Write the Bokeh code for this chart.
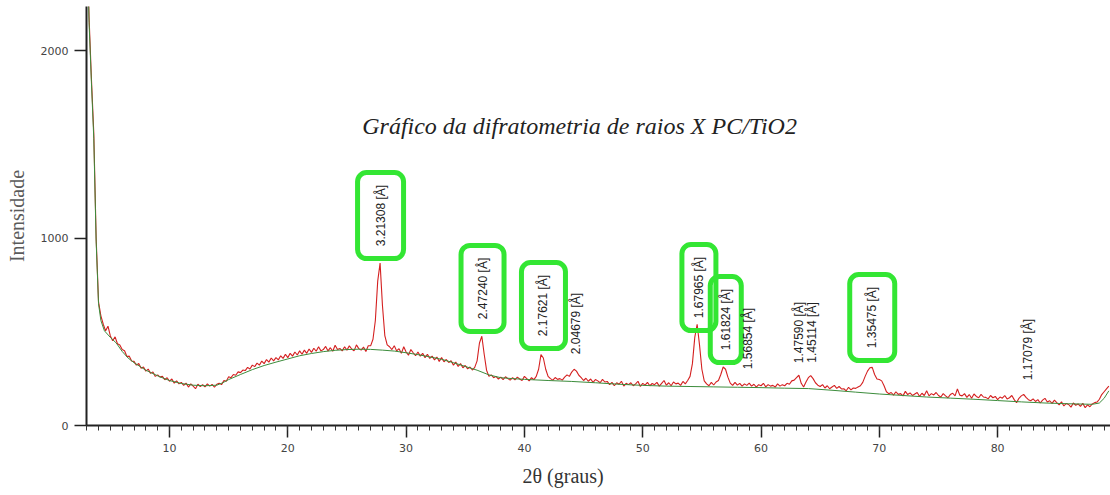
import numpy as np
from bokeh.plotting import figure
from bokeh.models import Range1d, SingleIntervalTicker, Label, LabelSet, ColumnDataSource, Title
from bokeh.embed import file_html
from bokeh.resources import INLINE
from bokeh.core.properties import value

# ---------------- data ----------------
two_theta_start = 3.0
two_theta_step = 0.2
intensity = [
    2700, 2180, 1850, 1560, 1000, 660, 585, 540, 505, 530,
    478, 452, 473, 436, 430, 405, 399, 368, 370, 344,
    342, 322, 331, 305, 312, 290, 301, 278, 286, 262,
    270, 258, 262, 244, 255, 236, 248, 226, 238, 222,
    230, 214, 226, 205, 222, 210, 196, 220, 208, 218,
    206, 222, 210, 219, 204, 220, 226, 218, 240, 236,
    260, 255, 272, 268, 286, 282, 296, 293, 310, 301,
    322, 314, 333, 322, 344, 330, 352, 338, 360, 345,
    362, 350, 372, 358, 380, 362, 385, 370, 392, 376,
    398, 380, 402, 385, 408, 390, 412, 396, 420, 398,
    405, 422, 398, 415, 396, 428, 405, 411, 398, 420,
    402, 425, 408, 398, 430, 410, 402, 418, 395, 425,
    425, 460, 560, 770, 866, 640, 480, 430, 420, 405,
    425, 398, 410, 385, 420, 392, 375, 405, 388, 372,
    392, 370, 385, 362, 380, 358, 370, 350, 365, 342,
    362, 340, 352, 336, 345, 322, 338, 315, 330, 308,
    320, 302, 312, 296, 310, 345, 440, 476, 380, 295,
    262, 270, 255, 262, 248, 258, 245, 260, 250, 242,
    255, 244, 258, 248, 240, 262, 250, 238, 255, 245,
    262, 300, 378, 360, 300, 262, 250, 242, 256, 246,
    250, 242, 258, 270, 262, 285, 300, 290, 268, 255,
    240, 252, 236, 248, 230, 245, 238, 228, 246, 232,
    235, 218, 230, 212, 228, 220, 236, 210, 225, 218,
    228, 212, 222, 236, 208, 225, 215, 230, 212, 224,
    218, 230, 210, 225, 240, 215, 228, 212, 232, 222,
    226, 214, 235, 222, 240, 262, 330, 470, 540, 430,
    300, 238, 222, 212, 230, 216, 232, 240, 272, 312,
    300, 258, 226, 214, 230, 215, 225, 210, 222, 214,
    226, 210, 220, 205, 218, 212, 225, 206, 218, 210,
    214, 205, 222, 210, 218, 212, 225, 220, 238, 242,
    255, 268, 225, 205, 232, 255, 266, 250, 228, 215,
    208, 218, 200, 212, 196, 205, 214, 198, 208, 195,
    196, 185, 204, 190, 200, 198, 205, 212, 230, 262,
    290, 308, 310, 272, 248, 245, 238, 212, 180, 170,
    176, 162, 180, 166, 170, 158, 182, 165, 174, 160,
    168, 176, 155, 172, 160, 185, 158, 170, 163, 176,
    160, 152, 170, 158, 148, 165, 172, 158, 195, 162,
    158, 170, 150, 165, 145, 168, 155, 148, 166, 152,
    150, 142, 160, 148, 155, 138, 152, 146, 160, 142,
    148, 160, 138, 122, 145, 158, 166, 150, 138, 132,
    142, 128, 138, 120, 135, 145, 125, 132, 118, 135,
    122, 110, 126, 104, 118, 112, 98, 120, 108, 115,
    102, 118, 95, 110, 100, 115, 122, 125, 140, 165,
    180, 195, 210,
]
two_theta = [round(two_theta_start + i * two_theta_step, 2) for i in range(len(intensity))]

bg_two_theta = [3.0, 3.2, 3.4, 3.6, 3.8, 4.0, 4.2, 4.5, 5.0, 5.5, 6.0, 6.5, 7.0, 7.5,
                8.0, 8.5, 9.0, 9.5, 10.0, 11.0, 12.0, 13.0, 14.0, 14.5, 15.0, 16.0,
                17.0, 18.0, 19.0, 20.0, 21.0, 22.0, 23.0, 24.0, 25.0, 26.0, 27.0,
                28.0, 29.0, 30.0, 31.0, 32.0, 33.0, 34.0, 35.0, 36.0, 37.0, 38.0,
                39.0, 40.0, 42.0, 44.0, 46.0, 48.0, 50.0, 52.0, 54.0, 56.0, 58.0,
                60.0, 62.0, 64.0, 66.0, 68.0, 70.0, 72.0, 74.0, 76.0, 78.0, 80.0,
                82.0, 84.0, 86.0, 88.0, 88.6, 89.0, 89.4]
bg_intensity = [2700, 2150, 1830, 1530, 980, 650, 560, 505, 470, 440, 395, 360, 335, 315,
                295, 280, 265, 252, 240, 224, 215, 212, 215, 228, 245, 272,
                298, 320, 338, 355, 372, 384, 394, 401, 405, 407, 406,
                402, 397, 388, 378, 366, 353, 335, 315, 295, 270, 255,
                250, 246, 240, 235, 228, 220, 214, 210, 208, 206, 204,
                202, 199, 197, 188, 178, 168, 160, 152, 146, 140, 133,
                126, 120, 116, 113, 120, 145, 185]

peak_labels = ["3.21308 [Å]", "2.47240 [Å]", "2.17621 [Å]", "2.04679 [Å]",
               "1.67965 [Å]", "1.61824 [Å]", "1.56854 [Å]", "1.47590 [Å]",
               "1.45114 [Å]", "1.35475 [Å]", "1.17079 [Å]"]
peak_two_theta = [27.84, 36.46, 41.61, 44.40, 54.75, 57.02, 58.94, 63.17, 64.35, 69.40, 82.53]
peak_boxed = [True, True, True, False, True, True, False, False, False, True, False]

# placement (annotation positions / sizes)
label_y = [1120, 731, 640, 544, 736, 565, 464, 496, 496, 576, 405]
box_w_px = [46, 43, 44, 0, 34, 31, 0, 0, 0, 45, 0]
box_h_px = 86

# ---------------- figure ----------------
p = figure(width=1110, height=495,
           x_range=Range1d(2.984, 89.54), y_range=Range1d(0, 2235),
           output_backend="svg", toolbar_location=None,
           min_border_left=86, min_border_right=0, min_border_top=6, min_border_bottom=70)
p.xgrid.visible = False
p.ygrid.visible = False
p.outline_line_color = None
p.background_fill_color = "white"
p.border_fill_color = "white"

p.xaxis.ticker = SingleIntervalTicker(interval=10, num_minor_ticks=10)
p.yaxis.ticker = SingleIntervalTicker(interval=1000, num_minor_ticks=0)

for ax in (p.xaxis[0], p.yaxis[0]):
    ax.axis_line_width = 2
    ax.axis_line_color = "#222222"
    ax.major_tick_line_color = "#222222"
    ax.major_tick_line_width = 1.5
    ax.major_tick_in = 0
    ax.major_tick_out = 12
    ax.minor_tick_in = 0
    ax.minor_tick_out = 5
    ax.minor_tick_line_color = "#333333"
    ax.major_label_text_font = "DejaVu Sans"
    ax.major_label_text_font_size = "11px"
    ax.major_label_text_color = "#444444"
    ax.major_label_standoff = 6
p.yaxis.minor_tick_line_color = None

p.yaxis.axis_label = "Intensidade"
p.yaxis.axis_label_text_font = "Liberation Serif"
p.yaxis.axis_label_text_font_style = "normal"
p.yaxis.axis_label_text_font_size = "20px"
p.yaxis.axis_label_text_color = "#5a5a5a"
p.yaxis.axis_label_standoff = 10

# x-axis caption (placed left of centre as in the original)
p.add_layout(Title(text="2θ (graus)", align="left", offset=436, standoff=17,
                   text_font="Liberation Serif", text_font_style="normal",
                   text_font_size="20px", text_color="#333333"), "below")

# curves
p.line(two_theta, intensity, line_color="#d42020", line_width=1.1)
p.line(bg_two_theta, bg_intensity, line_color="#3c8c3c", line_width=1)

# boxes around selected labels
bx = [x for x, b in zip(peak_two_theta, peak_boxed) if b]
by = [y for y, b in zip(label_y, peak_boxed) if b]
bw = [w for w, b in zip(box_w_px, peak_boxed) if b]
box_src = ColumnDataSource(dict(x=bx, y=by, w=bw))
p.rect(x="x", y="y", width="w", height=box_h_px, width_units="screen", height_units="screen",
       source=box_src, fill_color=None, line_color="#33e633", line_width=5, border_radius=9)

lab_src = ColumnDataSource(dict(x=peak_two_theta, y=label_y, t=peak_labels))
p.add_layout(LabelSet(x="x", y="y", text="t", source=lab_src, angle=np.pi / 2,
                      text_align="center", text_baseline="middle",
                      text_font=value("Liberation Sans"), text_font_size="12px",
                      text_color="#222222"))

p.add_layout(Label(x=44.66, y=1595, text="Gráfico da difratometria de raios X PC/TiO2",
                   text_font="Liberation Serif", text_font_style="italic",
                   text_font_size="24px", text_color="#222222",
                   text_align="center", text_baseline="middle"))

open("out.html", "w").write(file_html(p, INLINE))
